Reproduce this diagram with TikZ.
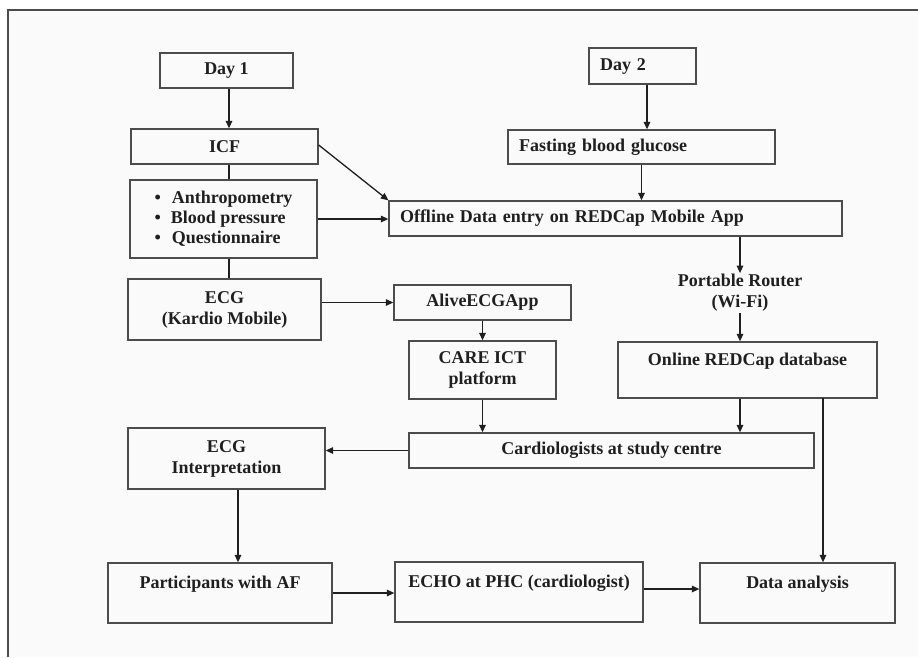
\documentclass[tikz,border=0pt]{standalone}
\usepackage{fontspec}
\setmainfont{Liberation Serif}
\usepackage{xcolor}
\definecolor{framegray}{rgb}{0.30,0.30,0.30}
\definecolor{panel}{rgb}{0.98,0.98,0.98}
\definecolor{ink}{rgb}{0.12,0.12,0.12}
\usetikzlibrary{arrows.meta}
\usetikzlibrary{calc}

\begin{document}
\begin{tikzpicture}[x=1pt, y=-1pt, >={Triangle[length=7.5pt,width=6.5pt]},
    every node/.style={font=\fontsize{18}{21}\selectfont\bfseries, text=ink},
    box/.style={draw=framegray, line width=1.3pt, inner sep=0pt, align=center},
    lbox/.style={draw=framegray, line width=1.3pt, inner xsep=11pt, inner ysep=0pt, align=left},
    flow/.style={->, line width=1.3pt, draw=ink}]
\useasboundingbox (0,0) rectangle (918,657);
\fill[panel] (8,10) rectangle (918,657);
\draw[framegray, line width=1.8pt] (8,657) -- (8,10) -- (918,10);

\node(day1)[box, minimum width=133pt, minimum height=35pt] at (226.5,70.5) {Day 1};
\node(icf)[box, minimum width=187pt, minimum height=35pt] at (224.5,146.5) {ICF};
\node(meas)[box, minimum width=187pt, minimum height=78pt, align=left] at (223.5,219)
  {\textbullet\hspace{11pt}Anthropometry\\[-1pt]\textbullet\hspace{10pt}Blood pressure\\[-1pt]\textbullet\hspace{11pt}Questionnaire};
\node(ecg)[box, minimum width=193pt, minimum height=61pt] at (224.5,309.5) {ECG\\(Kardio Mobile)};

\node(day2)[lbox, text width=85pt, minimum height=36pt] at (642.5,66) {Day 2};
\node(fbg)[lbox, text width=245pt, minimum height=34pt] at (641.5,147) {Fasting blood glucose};
\node(offline)[lbox, text width=431pt, minimum height=35pt] at (615.5,218.5) {Offline Data entry on REDCap Mobile App};
\node(router)[align=center, inner sep=1pt] at (740,293) {Portable Router\\(Wi-Fi)};

\node(alive)[box, minimum width=177pt, minimum height=35pt] at (482.5,302.5) {AliveECGApp};
\node(care)[box, minimum width=147pt, minimum height=58pt] at (482.5,370) {CARE ICT\\platform};
\node(online)[box, minimum width=259pt, minimum height=56pt] at (747.5,370) {Online REDCap database\\\mbox{}};
\node(cardio)[box, minimum width=405pt, minimum height=35pt] at (611.5,450.5) {Cardiologists at study centre};
\node(interp)[box, minimum width=197pt, minimum height=61pt] at (226.5,458.5) {ECG\\Interpretation};

\node(partaf)[box, minimum width=224pt, minimum height=60pt] at (220,593) {Participants with AF\\\mbox{}};
\node(echo)[box, minimum width=248pt, minimum height=60pt] at (519,592) {ECHO at PHC (cardiologist)\\\mbox{}};
\node(analysis)[box, minimum width=195pt, minimum height=60pt] at (797.5,593) {Data analysis\\\mbox{}};

\coordinate (tap) at (823,398);

\draw[flow] ([xshift=2.5pt]day1.south) -- ([xshift=2.5pt]day1.south |- icf.north);
\draw[line width=1.3pt, ink] ([xshift=4.5pt]icf.south) -- ([xshift=4.5pt]icf.south |- meas.north);
\draw[line width=1.3pt, ink] ([xshift=5.5pt]meas.south) -- ([xshift=5.5pt]meas.south |- ecg.north);
\draw[flow] ([yshift=1.5pt]icf.east) -- (offline.north west);
\draw[flow] (meas.east) -- (meas.east -| offline.west);
\draw[flow] (alive.west -| ecg.east) -- (alive.west);

\draw[flow] ([xshift=4.5pt]day2.south) -- ([xshift=4.5pt]day2.south |- fbg.north);
\draw[flow] (fbg.south) -- (fbg.south |- offline.north);
\draw[flow] (offline.south -| router) -- (router.north);
\draw[flow] (router.south) -- (router.south |- online.north);

\draw[flow] (alive.south) -- (care.north);
\draw[flow] (care.south) -- (care.south |- cardio.north);
\draw[flow] (online.south -| router) -- (cardio.north -| router);
\draw[flow] (tap) -- (tap |- analysis.north);
\draw[flow] (cardio.west) -- (cardio.west -| interp.east);

\draw[flow] ([xshift=11.5pt]interp.south) -- ([xshift=11.5pt]interp.south |- partaf.north);
\draw[flow] (partaf.east) -- (partaf.east -| echo.west);
\draw[flow] ([yshift=3pt]echo.east) -- ([yshift=3pt]echo.east -| analysis.west);
\end{tikzpicture}
\end{document}
